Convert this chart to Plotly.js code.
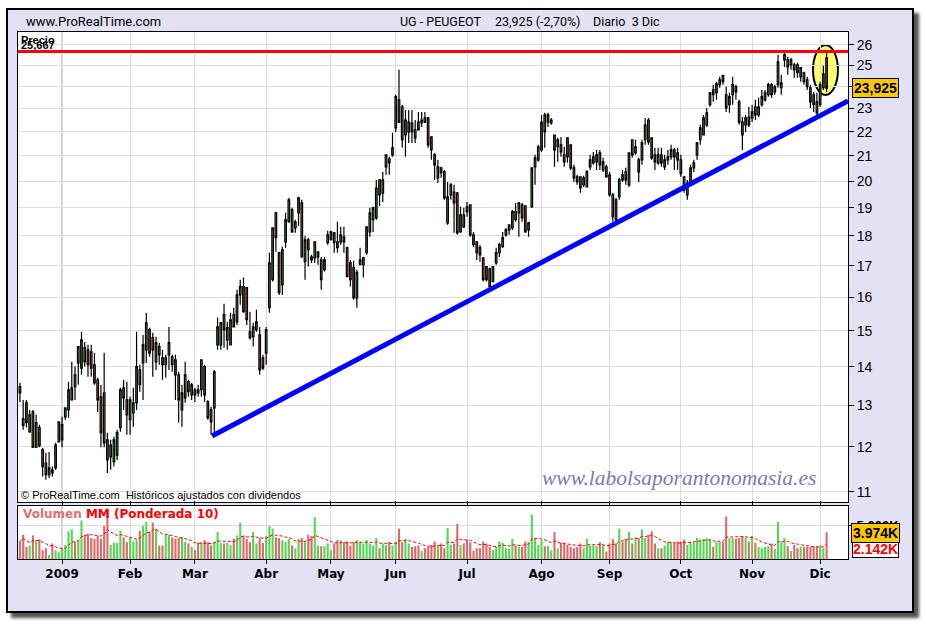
<!DOCTYPE html>
<html><head><meta charset="utf-8">
<script src="https://cdn.plot.ly/plotly-3.0.1.min.js"></script>
<style>
html,body{margin:0;padding:0;background:#fff;width:926px;height:626px;overflow:hidden;}
#frame{position:absolute;left:6px;top:8px;width:904px;height:601px;border:2px solid #000;background:#e2e2f4;box-shadow:5px 5px 3px #555;}
#chart{position:absolute;left:0;top:0;width:926px;height:626px;}
</style></head><body>
<div id="frame"></div><div id="chart"></div>
<script>
// ---- data (daily sessions, 11 Dec 2008 .. 3 Dec 2009) ----
const monthLabels = ['2009','Feb','Mar','Abr','May','Jun','Jul','Ago','Sep','Oct','Nov','Dic'];
const sessionsPerMonth = [13,21,20,22,20,20,22,23,21,22,22,21,3]; // Dec08, Jan..Nov, Dec09
const priceTicks = [11,12,13,14,15,16,17,18,19,20,21,22,23,24,25,26];
const hiddenTick = 24; // label covered by the last-price box

const open = [13.47,12.66,13.06,12.35,12.83,11.99,12.45,11.93,11.63,11.37,
11.48,11.52,12.11,12.16,12.71,12.88,13.13,13.78,14.10,13.96,
14.52,14.46,14.40,14.05,13.65,13.21,13.31,12.16,11.77,11.66,
11.81,12.45,13.44,13.13,12.64,12.81,13.06,13.91,14.10,14.46,
15.03,14.80,14.13,14.55,14.24,14.05,14.32,14.27,14.18,13.78,
12.88,13.18,13.60,13.26,13.39,13.39,13.39,14.00,13.08,12.88,
12.93,14.60,14.60,15.47,14.74,14.60,15.47,15.26,16.07,16.33,
16.30,14.97,14.83,15.03,14.88,14.24,14.37,15.68,16.55,18.82,
17.43,16.39,17.80,18.50,18.93,18.28,18.82,19.18,17.13,17.87,
17.29,17.26,17.29,17.19,16.87,17.77,17.87,18.11,17.80,17.80,
17.97,17.60,17.09,16.94,15.98,17.03,17.03,17.43,18.14,18.57,
18.64,20.05,19.55,20.56,20.88,21.04,22.16,23.39,23.08,21.86,
21.99,22.37,22.08,22.41,22.37,22.59,22.59,21.78,21.04,20.13,
20.52,20.36,18.46,19.48,19.59,19.56,18.14,18.75,19.04,19.11,
18.04,17.80,17.60,17.26,16.97,16.90,16.49,17.09,17.43,17.63,
18.04,18.21,18.28,18.86,18.82,19.11,19.07,18.21,19.04,20.56,
20.84,21.24,22.72,22.41,22.37,21.86,21.37,21.45,21.04,21.74,
21.45,20.52,20.17,20.17,19.86,19.78,20.56,20.72,20.76,21.12,
20.44,20.56,20.25,19.48,19.30,19.41,20.25,20.36,19.86,21.66,
21.12,20.84,20.84,21.66,22.50,21.74,21.04,20.72,21.04,20.56,
20.84,20.96,21.24,21.12,20.84,20.17,19.48,19.93,20.52,21.04,
21.66,21.86,22.29,23.17,23.84,23.71,24.08,24.50,23.62,23.17,
23.62,23.99,23.30,22.41,22.29,22.63,22.59,23.08,22.72,23.17,
23.39,23.62,24.08,23.75,24.08,23.94,25.26,25.26,25.02,25.02,
25.02,24.45,24.64,24.31,23.94,23.62,23.30,23.17,23.94,25.36];

const high = [13.57,13.13,13.13,12.88,12.88,12.76,12.52,11.97,11.86,11.88,
11.55,12.09,12.59,12.71,12.93,13.60,14.13,14.00,14.55,14.97,
14.68,14.60,14.60,14.38,13.70,13.52,14.38,12.33,12.16,12.23,
12.40,13.44,13.65,13.60,13.21,13.44,14.97,14.05,14.88,15.53,
15.09,14.94,14.83,14.66,14.46,14.32,15.11,14.32,14.32,13.86,
13.52,14.13,13.65,13.57,13.44,13.52,14.18,14.05,13.13,12.96,
13.91,15.39,15.26,15.80,15.26,15.53,15.68,16.23,16.55,16.62,
16.30,15.56,15.23,15.62,15.11,14.32,15.11,17.43,18.28,18.86,
17.46,17.63,18.82,19.37,19.00,18.57,19.41,19.30,18.00,17.94,
17.36,17.80,17.46,17.29,17.29,18.18,18.18,18.14,18.50,18.32,
18.32,17.63,17.19,17.16,16.87,17.60,17.29,18.32,19.00,19.04,
20.05,20.05,20.36,21.04,20.96,21.95,23.62,24.78,23.17,22.94,
22.94,22.94,22.50,22.85,22.85,22.85,22.63,21.78,21.12,20.84,
20.56,20.44,19.97,19.93,19.86,19.59,19.04,19.00,19.22,19.11,
18.14,17.80,17.70,17.26,16.97,16.94,16.97,17.60,17.77,18.14,
18.28,18.39,18.93,19.18,19.22,19.18,19.07,18.50,20.52,21.04,
21.45,22.72,22.81,22.81,22.59,21.86,21.74,21.78,21.37,21.74,
21.45,20.64,20.25,20.17,20.21,20.44,21.04,21.16,21.24,21.24,
20.92,20.64,20.36,19.56,19.37,20.13,20.44,20.52,21.12,21.66,
21.66,20.92,21.66,22.59,22.59,21.74,21.33,21.33,21.33,21.04,
21.24,21.45,21.33,21.33,21.04,20.17,20.05,20.64,20.84,21.57,
22.29,22.72,23.03,23.75,24.08,24.22,24.45,24.54,23.99,23.71,
24.45,24.08,23.39,22.63,22.72,23.08,23.17,23.39,23.48,23.84,
23.84,24.17,24.17,24.08,25.51,24.54,25.60,25.41,25.36,25.12,
25.12,24.92,24.69,24.45,24.08,23.75,23.71,24.22,24.97,25.667];

const low = [13.08,12.40,12.45,12.33,11.97,11.97,11.99,11.33,11.26,11.30,
11.33,11.48,12.11,11.99,12.64,12.69,13.13,13.13,13.52,13.78,
14.00,13.73,13.73,13.52,12.83,11.99,11.99,11.41,11.48,11.55,
11.70,12.35,12.88,12.28,12.28,12.47,12.88,13.34,13.13,14.10,
14.27,13.73,13.91,14.05,13.65,13.70,13.91,13.86,13.13,12.57,
12.47,13.06,13.21,13.13,13.08,13.21,13.21,13.08,12.64,12.28,
12.33,14.46,14.46,14.52,14.46,14.60,15.11,15.17,15.77,15.53,
15.17,14.74,14.55,14.97,13.78,13.91,14.05,15.53,16.49,17.46,
16.07,16.07,17.60,18.46,18.11,18.11,18.35,17.26,16.55,16.97,
17.09,17.09,17.03,16.23,16.81,17.70,17.84,17.43,17.43,17.70,
17.43,16.62,16.33,15.92,15.68,17.03,16.62,17.36,17.97,18.14,
18.57,19.07,19.22,20.25,20.25,20.96,21.99,22.37,21.33,20.96,
21.53,21.53,21.53,22.08,22.20,22.37,21.33,20.84,20.05,19.93,
20.13,19.30,18.39,19.30,18.11,18.04,18.11,18.28,18.68,17.97,
17.63,17.19,17.13,16.49,16.49,16.30,16.46,17.03,17.29,17.60,
17.97,18.04,18.21,18.50,17.97,18.50,18.11,17.97,19.00,19.86,
20.76,21.16,21.33,22.20,22.29,20.56,20.76,20.96,20.56,20.72,
20.44,19.97,19.86,19.56,19.78,19.78,20.44,20.64,20.44,20.44,
20.36,20.13,19.41,18.50,18.50,19.30,19.97,19.86,19.78,20.92,
21.04,19.97,20.64,21.45,21.45,20.84,20.44,20.64,20.56,20.44,
20.64,20.84,20.44,20.44,20.17,19.56,19.30,19.86,20.36,20.84,
21.45,21.86,22.20,23.08,23.30,23.39,23.94,24.08,22.85,22.81,
23.17,23.39,22.29,21.24,21.99,22.20,22.41,22.50,22.63,23.08,
23.30,23.53,23.48,23.62,23.94,23.62,24.92,24.54,24.78,24.40,
24.40,24.22,24.08,23.84,23.03,22.85,22.63,23.08,23.84,23.75];

const close = [13.31,12.50,12.57,12.76,11.99,12.57,12.02,11.55,11.37,11.52,
11.41,12.04,12.59,12.52,12.93,13.39,13.44,13.47,14.55,14.74,
14.13,14.05,13.96,13.57,13.13,12.33,12.09,11.70,12.04,12.16,
12.33,13.39,13.18,12.76,13.13,13.06,14.00,13.52,14.60,15.23,
14.37,14.46,14.66,14.32,14.05,14.24,14.66,14.05,13.78,13.13,
13.31,13.78,13.34,13.52,13.26,13.31,14.18,13.26,12.69,12.59,
13.86,15.11,15.23,15.03,15.09,15.32,15.11,16.07,16.33,15.56,
15.32,14.80,15.11,15.26,13.91,13.96,15.03,17.09,18.28,17.94,
16.14,17.53,18.57,19.30,18.14,18.50,19.37,17.29,17.87,17.53,
17.19,17.80,17.46,16.55,17.19,18.04,18.14,17.77,17.60,18.04,
17.80,16.65,16.55,15.98,16.78,17.19,17.26,18.32,18.82,19.00,
19.74,19.48,20.05,21.04,20.72,21.33,23.53,22.41,21.66,22.50,
22.41,21.99,21.74,22.08,22.50,22.41,21.45,21.24,20.64,20.56,
20.33,19.37,19.41,19.86,19.18,18.11,18.75,18.32,18.86,18.04,
17.70,17.43,17.36,16.55,16.55,16.33,16.97,17.43,17.70,17.94,
18.21,18.39,18.86,18.57,19.18,18.64,18.14,18.46,20.52,20.92,
21.37,22.41,21.99,22.72,22.50,21.24,21.66,21.16,20.76,20.96,
20.52,20.13,19.97,19.74,20.13,20.36,20.84,20.96,21.04,20.64,
20.76,20.17,19.48,18.68,18.57,20.05,20.05,20.05,21.12,21.04,
21.37,20.36,21.53,22.29,21.57,20.92,20.76,21.04,20.72,20.84,
20.96,21.24,20.96,20.84,20.29,19.67,19.93,20.52,20.72,21.53,
22.16,22.59,22.81,23.71,23.62,24.12,24.31,24.22,23.03,23.53,
24.08,23.75,22.41,21.86,22.59,22.29,22.85,22.72,23.08,23.53,
23.71,24.08,23.62,23.99,25.16,24.17,25.51,24.92,25.26,24.78,
24.64,24.88,24.22,23.99,23.30,23.17,22.81,24.08,24.59,23.925];

const volumeK = [2.6,3.6,1.8,2.0,3.5,2.8,2.9,1.3,1.6,0.6,
2.3,1.3,1.0,1.6,2.1,4.1,4.4,2.5,2.8,5.7,
3.6,3.7,3.1,3.0,3.4,3.0,4.9,7.5,2.1,2.4,
2.4,4.2,3.2,2.5,3.1,2.6,2.8,4.2,4.9,5.5,
4.0,5.4,4.5,2.0,2.0,3.6,3.6,3.2,3.0,3.1,
3.3,2.5,2.3,1.8,1.3,2.4,2.5,2.8,2.5,2.0,
2.6,4.0,2.4,2.3,2.4,2.1,3.0,3.5,5.4,3.5,
3.0,2.5,4.0,2.3,3.1,2.4,3.4,4.9,4.5,3.2,
3.1,2.8,2.5,3.0,2.0,1.6,3.0,3.1,2.5,3.6,
3.4,6.2,2.0,1.9,1.9,2.3,1.3,2.3,2.8,2.8,
2.5,2.6,2.0,2.5,2.8,2.5,2.3,2.8,2.3,2.0,
3.1,1.6,2.3,2.1,2.5,2.0,2.6,4.5,2.5,3.0,
2.3,1.8,1.9,2.0,1.2,1.6,1.8,2.1,2.6,2.0,
2.3,1.6,4.6,2.1,2.3,5.2,2.1,2.3,2.8,2.5,
1.2,1.6,1.6,2.6,2.3,1.8,1.3,1.8,2.6,2.4,
1.6,1.5,3.0,2.0,1.8,1.8,2.6,2.5,6.6,3.0,
2.1,2.8,1.9,1.9,1.3,4.0,1.6,2.4,2.3,2.1,
1.8,1.6,1.8,2.3,1.6,3.0,2.0,2.0,1.9,2.5,
2.0,1.1,2.3,3.0,2.3,4.5,2.5,3.0,4.0,2.3,
3.2,3.1,4.4,3.1,3.6,4.1,2.3,1.6,1.6,2.0,
2.5,2.5,2.3,2.6,2.6,2.9,2.1,2.5,2.5,3.1,
2.9,3.0,3.1,2.9,1.8,2.5,2.5,2.5,6.3,3.1,
3.1,3.0,3.1,3.4,3.2,2.6,3.4,2.4,1.8,1.6,
1.8,1.9,2.3,1.5,5.5,2.5,3.1,1.9,1.2,2.1,
1.6,1.8,1.8,1.8,1.8,1.9,1.8,2.0,1.6,3.974];

const resistanceLevel = 25.667;          // red horizontal line ("Precio 25,667")
const trendSession = [59.3, 255.6];      // blue support line, session positions
const trendPrice = [12.25, 23.34];
const volumeMALabel = '2.142K';
const volumeTickVal = [5], volumeTickText = ['5.000K'];

// ---- derived ----
const idx = close.map((_, i) => i);
const monthStart = [];
{ let p = sessionsPerMonth[0]; monthStart.push(p);
  for (let k = 1; k < monthLabels.length; k++) { p += sessionsPerMonth[k]; monthStart.push(p); } }
const upCol = '#3cc43c', dnCol = '#d96262';
const volColors = close.map((c, i) => c >= open[i] ? '#55d655' : '#e06868');
// weighted moving average (10)
const wma = volumeK.map((_, i) => {
  let s = 0, w = 0;
  for (let k = 0; k < 10 && i - k >= 0; k++) { const wt = 10 - k; s += wt * volumeK[i - k]; w += wt; }
  return s / w;
});
const n = close.length;
const lastClose = close[n - 1], prevClose = close[n - 2];
const pct = (lastClose / prevClose - 1) * 100;
const fmt = (v, d) => v.toFixed(d).replace('.', ',');

const xRange = [-0.6, 255.6];
const L = 18, R = 848, T = 32, B = 559;
const px = x => (x - L) / (R - L);
const py = y => (B - y) / (B - T);

const traces = [
  { type: 'candlestick', x: idx, open: open, high: high, low: low, close: close,
    xaxis: 'x', yaxis: 'y', whiskerwidth: 0,
    increasing: { line: { color: '#000', width: 1.2 }, fillcolor: upCol },
    decreasing: { line: { color: '#000', width: 1.2 }, fillcolor: dnCol },
    hoverinfo: 'skip' },
  { type: 'scatter', mode: 'lines', x: trendSession, y: trendPrice, xaxis: 'x', yaxis: 'y',
    line: { color: '#0000ff', width: 5 }, hoverinfo: 'skip' },
  { type: 'scatter', mode: 'lines', x: xRange, y: [resistanceLevel, resistanceLevel], xaxis: 'x', yaxis: 'y',
    line: { color: '#ff0000', width: 3 }, hoverinfo: 'skip' },
  { type: 'bar', x: idx, y: volumeK, xaxis: 'x', yaxis: 'y2',
    marker: { color: volColors, line: { width: 0 } }, hoverinfo: 'skip' },
  { type: 'scatter', mode: 'lines', x: idx, y: wma, xaxis: 'x', yaxis: 'y2',
    line: { color: '#ff0000', width: 1, dash: '3px,2px' }, hoverinfo: 'skip' }
];

const tickFontR = { family: 'Liberation Sans, Arial', size: 14, color: '#000' };
const hdrFont = { family: 'Roboto, Liberation Sans, Arial', size: 12.5, color: '#000' };

const layout = {
  width: 926, height: 626,
  margin: { l: L, r: 926 - R, t: T, b: 626 - B, pad: 0 },
  paper_bgcolor: 'rgba(0,0,0,0)', plot_bgcolor: '#ffffff',
  showlegend: false, hovermode: false, bargap: 0.35,
  xaxis: { type: 'linear', range: xRange, anchor: 'y2', tickmode: 'array',
    tickvals: monthStart, ticktext: monthLabels, ticks: 'outside', ticklen: 4, tickcolor: '#000',
    showgrid: true, gridcolor: '#dcdcdc', showline: true, linecolor: '#000', linewidth: 1,
    mirror: 'all', zeroline: false, rangeslider: { visible: false },
    tickfont: { family: 'DejaVu Sans, Verdana', size: 12, color: '#000', weight: 'bold' } },
  yaxis: { type: 'log', domain: [0.1082, 1], range: [Math.log10(10.79), Math.log10(26.65)],
    side: 'right', tickmode: 'array', tickvals: priceTicks,
    ticktext: priceTicks.map(v => v === hiddenTick ? '' : String(v)),
    ticks: 'outside', ticklen: 5, tickcolor: '#000', showgrid: true, gridcolor: '#dcdcdc',
    showline: true, linecolor: '#000', mirror: true, zeroline: false, tickfont: tickFontR },
  yaxis2: { domain: [0, 0.1011], range: [0, 7.9], side: 'right', tickmode: 'array',
    tickvals: volumeTickVal, ticktext: volumeTickText, ticks: 'outside', ticklen: 5, tickcolor: '#000',
    showgrid: true, gridcolor: '#dcdcdc', showline: true, linecolor: '#000', mirror: true,
    zeroline: false, tickfont: { family: 'Liberation Sans, Arial', size: 13, color: '#000', weight: 'bold' } },
  shapes: [
    { type: 'line', xref: 'x', yref: 'y domain', x0: monthStart[0], x1: monthStart[0], y0: 0, y1: 1,
      line: { color: '#9a9a9a', width: 1 }, layer: 'below' },
    { type: 'line', xref: 'x', yref: 'y2 domain', x0: monthStart[0], x1: monthStart[0], y0: 0, y1: 1,
      line: { color: '#9a9a9a', width: 1 }, layer: 'below' },
    { type: 'circle', xref: 'x', yref: 'paper', x0: 244.8, x1: 252.5, y0: py(95), y1: py(45),
      fillcolor: '#ffff6e', line: { color: '#000', width: 2 }, layer: 'below' }
  ],
  annotations: [
    { text: 'www.ProRealTime.com', xref: 'paper', yref: 'paper', x: px(24), y: py(22),
      xanchor: 'left', yanchor: 'middle', showarrow: false, font: Object.assign({}, hdrFont, { size: 13 }) },
    { text: 'UG - PEUGEOT', xref: 'paper', yref: 'paper', x: px(398), y: py(22),
      xanchor: 'left', yanchor: 'middle', showarrow: false, font: hdrFont },
    { text: fmt(lastClose, 3) + ' (' + fmt(pct, 2) + '%)', xref: 'paper', yref: 'paper', x: px(493), y: py(22),
      xanchor: 'left', yanchor: 'middle', showarrow: false, font: hdrFont },
    { text: 'Diario\u00a0\u00a03 Dic', xref: 'paper', yref: 'paper', x: px(591), y: py(22),
      xanchor: 'left', yanchor: 'middle', showarrow: false, font: hdrFont },
    { text: 'Precio', xref: 'paper', yref: 'paper', x: px(19), y: py(40),
      xanchor: 'left', yanchor: 'middle', showarrow: false,
      font: { family: 'Liberation Sans, Arial', size: 11, color: '#000', weight: 'bold' } },
    { text: fmt(resistanceLevel, 3), xref: 'paper', yref: 'paper', x: px(19), y: py(45),
      xanchor: 'left', yanchor: 'middle', showarrow: false,
      font: { family: 'Liberation Sans, Arial', size: 11, color: '#000', weight: 'bold' } },
    { text: '© ProRealTime.com  Históricos ajustados con dividendos', xref: 'paper', yref: 'paper',
      x: px(19), y: py(495), xanchor: 'left', yanchor: 'middle', showarrow: false,
      font: { family: 'Liberation Sans, Arial', size: 11, color: '#000' } },
    { text: 'www.labolsaporantonomasia.es', xref: 'paper', yref: 'paper', x: px(540), y: py(478),
      xanchor: 'left', yanchor: 'middle', showarrow: false,
      font: { family: 'Liberation Serif, Times New Roman', size: 21.5, color: '#7c7ca6', style: 'italic' } },
    { text: '<span style="color:#e07070">Volumen</span> MM (Ponderada 10)', xref: 'paper', yref: 'paper',
      x: px(21), y: py(514), xanchor: 'left', yanchor: 'middle', showarrow: false,
      font: { family: 'DejaVu Sans, Verdana', size: 12, color: '#ff0000', weight: 'bold' } },
    { text: fmt(lastClose, 3), xref: 'paper', yref: 'paper', x: px(876), y: py(88),
      xanchor: 'center', yanchor: 'middle', showarrow: false, bgcolor: '#ffc800',
      bordercolor: '#000', borderwidth: 1, borderpad: 1,
      font: { family: 'Liberation Sans, Arial', size: 14, color: '#000', weight: 'bold' } },
    { text: volumeMALabel, xref: 'paper', yref: 'paper', x: px(876), y: py(549),
      xanchor: 'center', yanchor: 'middle', showarrow: false, bgcolor: '#ffffff',
      bordercolor: '#000', borderwidth: 1, borderpad: 0,
      font: { family: 'Liberation Sans, Arial', size: 14, color: '#ff0000', weight: 'bold' } },
    { text: volumeK[n - 1].toFixed(3) + 'K', xref: 'paper', yref: 'paper', x: px(876), y: py(533),
      xanchor: 'center', yanchor: 'middle', showarrow: false, bgcolor: '#ffc800',
      bordercolor: '#000', borderwidth: 1, borderpad: 1,
      font: { family: 'Liberation Sans, Arial', size: 14, color: '#000', weight: 'bold' } }
  ]
};

Plotly.newPlot('chart', traces, layout, { staticPlot: true, displayModeBar: false });
</script></body></html>
